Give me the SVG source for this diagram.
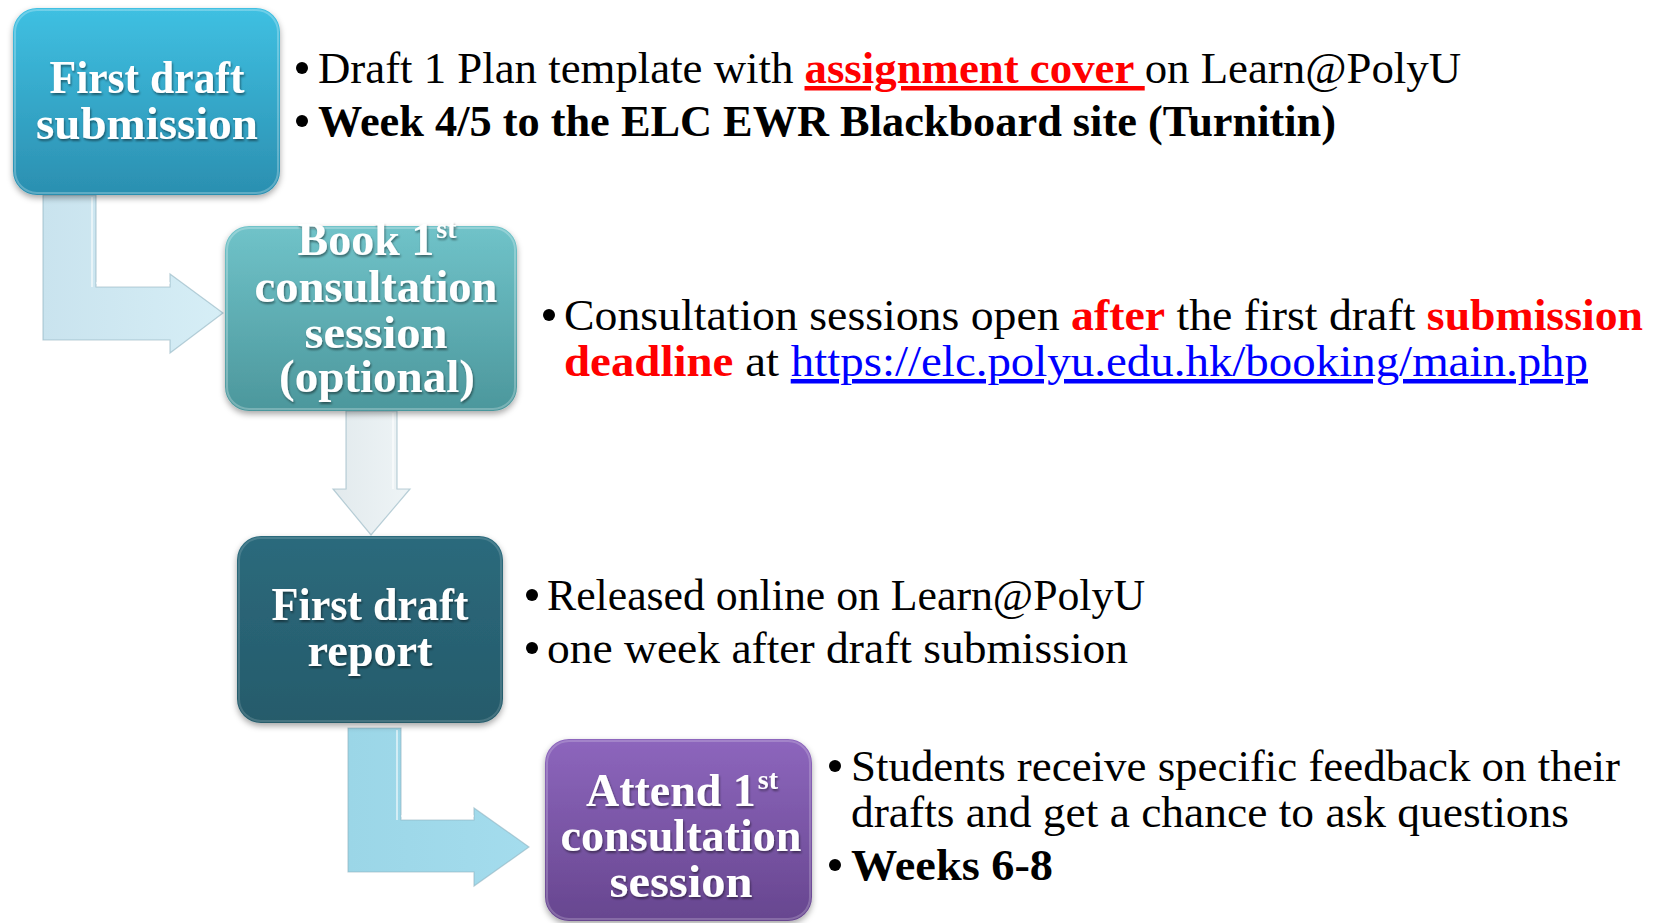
<svg xmlns="http://www.w3.org/2000/svg" width="1662" height="923" viewBox="0 0 1662 923">
<defs>
<linearGradient id="g1" x1="0" y1="0" x2="0" y2="1"><stop offset="0" stop-color="#3fc0e2"/><stop offset="1" stop-color="#2b8fb0"/></linearGradient>
<linearGradient id="g2" x1="0" y1="0" x2="0" y2="1"><stop offset="0" stop-color="#70c3c9"/><stop offset="1" stop-color="#4c979c"/></linearGradient>
<linearGradient id="g3" x1="0" y1="0" x2="0" y2="1"><stop offset="0" stop-color="#2c6a7c"/><stop offset="1" stop-color="#255b6b"/></linearGradient>
<linearGradient id="g4" x1="0" y1="0" x2="0" y2="1"><stop offset="0" stop-color="#8d66bd"/><stop offset="1" stop-color="#67468f"/></linearGradient>
<linearGradient id="a1" x1="0" y1="0" x2="1" y2="0"><stop offset="0" stop-color="#c9e3ee"/><stop offset="1" stop-color="#d6eef6"/></linearGradient>
<linearGradient id="a2" x1="0" y1="0" x2="1" y2="0"><stop offset="0" stop-color="#e2eaed"/><stop offset="1" stop-color="#eef4f6"/></linearGradient>
<linearGradient id="a3" x1="0" y1="0" x2="1" y2="0"><stop offset="0" stop-color="#9bd6e7"/><stop offset="1" stop-color="#a4dced"/></linearGradient>
<filter id="bs" x="-10%" y="-10%" width="120%" height="125%"><feDropShadow dx="0" dy="3" stdDeviation="3" flood-color="#000" flood-opacity="0.35"/></filter>
<filter id="ts" x="-10%" y="-20%" width="120%" height="150%"><feDropShadow dx="1" dy="2" stdDeviation="1.2" flood-color="#000" flood-opacity="0.45"/></filter>
</defs>
<style>
.node text{font-family:"Liberation Serif","Times New Roman",serif;font-weight:bold;font-size:46px;fill:#fff;text-anchor:middle}
.body{font-family:"Liberation Serif","Times New Roman",serif;font-size:45px;fill:#000}
.b{font-weight:bold}
.red{fill:#ff0000;font-weight:bold}
.link{fill:#0000ff;text-decoration:underline}
.sup{font-size:28px}
.hl{fill:none;stroke:#ffffff;stroke-opacity:0.55;stroke-width:2}
.edge{stroke:#8fb3c0;stroke-width:1.2;stroke-opacity:0.6}
</style>

<g id="connectors">
<path class="edge" fill="url(#a1)" d="M43,195 L96,195 L96,287 L170,287 L170,274 L223,313 L170,353 L170,340 L43,340 Z"/>
<path class="hl" d="M92,197 L92,287 M96,283 L170,283"/>
<path class="edge" fill="url(#a2)" d="M346,411 L397,411 L397,489 L410,489 L371,535 L333,489 L346,489 Z"/>
<path class="hl" d="M393,413 L393,489"/>
<path class="edge" fill="url(#a3)" d="M348,728 L401,728 L401,820 L474,820 L474,808 L529,847 L474,886 L474,872 L348,872 Z"/>
<path class="hl" d="M397,730 L397,820 M401,816 L474,816"/>
</g>

<g id="node1" class="node">
<rect x="13" y="8" width="267" height="187" rx="24" fill="url(#g1)" filter="url(#bs)"/>
<rect x="15" y="10" width="263" height="183" rx="22" fill="none" stroke="#ffffff" stroke-opacity="0.25" stroke-width="2"/>
<g filter="url(#ts)">
<text x="147" y="93" textLength="195" lengthAdjust="spacingAndGlyphs">First draft</text>
<text x="147" y="139" textLength="222" lengthAdjust="spacingAndGlyphs">submission</text>
</g>
</g>

<g id="node2" class="node">
<rect x="225" y="226" width="292" height="185" rx="24" fill="url(#g2)" filter="url(#bs)"/>
<rect x="227" y="228" width="288" height="181" rx="22" fill="none" stroke="#ffffff" stroke-opacity="0.25" stroke-width="2"/>
<g filter="url(#ts)">
<text x="377" y="255">Book 1<tspan class="sup" dx="2" dy="-17">st</tspan></text>
<text x="376" y="302" textLength="243" lengthAdjust="spacingAndGlyphs">consultation</text>
<text x="376" y="348" textLength="143" lengthAdjust="spacingAndGlyphs">session</text>
<text x="377" y="392" textLength="196" lengthAdjust="spacingAndGlyphs">(optional)</text>
</g>
</g>

<g id="node3" class="node">
<rect x="237" y="536" width="266" height="187" rx="24" fill="url(#g3)" filter="url(#bs)"/>
<rect x="239" y="538" width="262" height="183" rx="22" fill="none" stroke="#ffffff" stroke-opacity="0.15" stroke-width="2"/>
<g filter="url(#ts)">
<text x="370" y="620" textLength="197" lengthAdjust="spacingAndGlyphs">First draft</text>
<text x="370" y="666" textLength="125" lengthAdjust="spacingAndGlyphs">report</text>
</g>
</g>

<g id="node4" class="node">
<rect x="545" y="739" width="267" height="182" rx="24" fill="url(#g4)" filter="url(#bs)"/>
<rect x="547" y="741" width="263" height="178" rx="22" fill="none" stroke="#ffffff" stroke-opacity="0.2" stroke-width="2"/>
<g filter="url(#ts)">
<text x="682" y="806">Attend 1<tspan class="sup" dx="2" dy="-17">st</tspan></text>
<text x="681" y="851" textLength="241" lengthAdjust="spacingAndGlyphs">consultation</text>
<text x="681" y="897" textLength="143" lengthAdjust="spacingAndGlyphs">session</text>
</g>
</g>

<g id="notes">
<circle cx="302" cy="68" r="6"/>
<text class="body" x="318" y="83" textLength="1143" lengthAdjust="spacingAndGlyphs">Draft 1 Plan template with <tspan class="red" text-decoration="underline">assignment cover </tspan>on Learn@PolyU</text>
<circle cx="302" cy="121" r="6"/>
<text class="body b" x="318" y="136" textLength="1018" lengthAdjust="spacingAndGlyphs">Week 4/5 to the ELC EWR Blackboard site (Turnitin)</text>

<circle cx="549" cy="315" r="6"/>
<text class="body" x="564" y="330" textLength="1079" lengthAdjust="spacingAndGlyphs">Consultation sessions open <tspan class="red">after</tspan> the first draft <tspan class="red">submission</tspan></text>
<text class="body" x="564" y="376" textLength="1024" lengthAdjust="spacingAndGlyphs"><tspan class="red">deadline</tspan> at <tspan class="link">https://elc.polyu.edu.hk/booking/main.php</tspan></text>

<circle cx="532" cy="595" r="6"/>
<text class="body" x="547" y="610" textLength="598" lengthAdjust="spacingAndGlyphs">Released online on Learn@PolyU</text>
<circle cx="532" cy="648" r="6"/>
<text class="body" x="547" y="663" textLength="581" lengthAdjust="spacingAndGlyphs">one week after draft submission</text>

<circle cx="835" cy="766" r="6"/>
<text class="body" x="851" y="781" textLength="769" lengthAdjust="spacingAndGlyphs">Students receive specific feedback on their</text>
<text class="body" x="851" y="827" textLength="718" lengthAdjust="spacingAndGlyphs">drafts and get a chance to ask questions</text>
<circle cx="835" cy="865" r="6"/>
<text class="body b" x="851" y="880" textLength="202" lengthAdjust="spacingAndGlyphs">Weeks 6-8</text>
</g>
</svg>
